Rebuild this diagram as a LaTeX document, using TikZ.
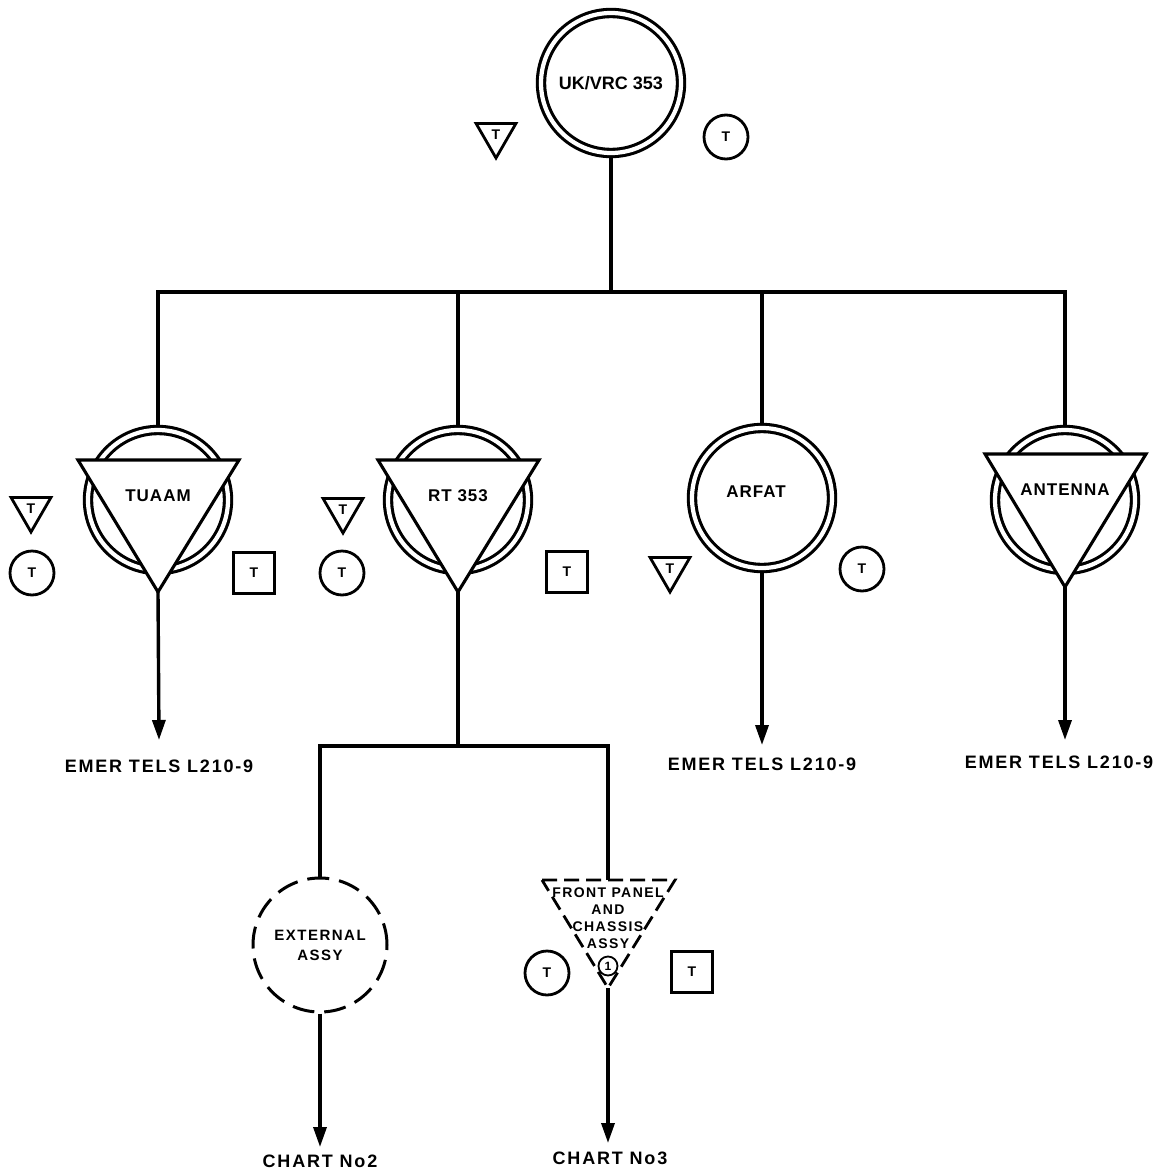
\documentclass[tikz,border=0pt]{standalone}
\usepackage{fontspec}
\setmainfont{Liberation Sans}
\newfontfamily\lblfont[LetterSpace=10]{Liberation Sans}
\newfontfamily\unitfont[LetterSpace=6]{Liberation Sans}
\usepackage{tikz}
\usetikzlibrary{arrows.meta,shapes.geometric,calc}

\begin{document}
\begin{tikzpicture}[x=1pt,y=-1pt,
  every node/.style={inner sep=0pt},
  ln/.style={line width=3.4pt},
  arr/.style={ln,-{Triangle[length=20pt,width=13pt]}},
  dcirc/.style={circle,draw,double,double distance=4.2pt,line width=3.1pt,minimum size=140pt,outer sep=4pt},
  unit/.style={draw,fill=white,line width=3.1pt},
  tsym/.style={regular polygon,regular polygon sides=3,shape border rotate=180,draw,line width=2.8pt,minimum size=46pt,font=\fontsize{14}{14}\bfseries},
  csym/.style={circle,draw,line width=2.8pt,minimum size=44pt,font=\fontsize{14}{14}\bfseries},
  ssym/.style={rectangle,draw,line width=2.8pt,minimum size=41pt,font=\fontsize{14}{14}\bfseries},
  lbl/.style={font=\fontsize{18}{18}\lblfont\bfseries},
  uname/.style={font=\fontsize{17}{17}\unitfont\bfseries},
  sub/.style={align=center,font=\fontsize{14}{17}\lblfont\bfseries}]
  \useasboundingbox (0,0) rectangle (1165,1172);
  \node[dcirc,font=\fontsize{18}{18}\bfseries] (ukvrc) at (611,83) {UK/VRC 353};
  \node[tsym] (ukvrc-t) at (496,135) {T};
  \node[csym] (ukvrc-ct) at (726,137) {T};
  \foreach \n/\x/\ty/\ay/\ly/\t in {tuaam/158/460/592/496/TUAAM, rt/458/460/592/496/RT 353, ant/1065/454/587/490/ANTENNA}{
    \node[dcirc] (\n-c) at (\x,500) {};
    \coordinate (\n-tip) at (\x,\ay);
    \draw[unit] (\x-80,\ty) -- (\x+81,\ty) -- (\n-tip) -- cycle;
    \node[uname] (\n) at (\x,\ly) {\t};}
  \node[dcirc] (arfat-c) at (762,498) {};
  \node[uname] (arfat) at (756,492) {ARFAT};
  \foreach \n/\x/\y in {tuaam-t/31/509, rt-t/343/510, arfat-t/670/569}
    \node[tsym] (\n) at (\x,\y) {T};
  \foreach \n/\x/\y in {tuaam-ct/32/573, rt-ct/342/573, arfat-ct/862/569, front-ct/547/973}
    \node[csym] (\n) at (\x,\y) {T};
  \foreach \n/\x/\y in {tuaam-s/254/573, rt-s/567/572, front-s/692/972}
    \node[ssym] (\n) at (\x,\y) {T};
  \coordinate (bus) at (611,292);
  \draw[ln] (ukvrc.south) -- (ukvrc.south |- bus);
  \draw[ln] (tuaam-c.north) -- (tuaam-c.north |- bus) -- (ant-c.north |- bus) -- (ant-c.north);
  \draw[ln] (rt-c.north) -- (rt-c.north |- bus);
  \draw[ln] (arfat-c.north) -- (arfat-c.north |- bus);
  \coordinate (tuaam-end) at (159,740);
  \coordinate (arfat-end) at (762,745);
  \coordinate (ant-end) at (1065,740);
  \draw[arr] (tuaam-tip) -- (tuaam-end);
  \draw[arr] (arfat-c.south) -- (arfat-end);
  \draw[arr] (ant-tip) -- (ant-end);
  \node[lbl] (tuaam-ref) at (159,766) {EMER TELS L210-9};
  \node[lbl] (arfat-ref) at (762,764) {EMER TELS L210-9};
  \node[lbl] (ant-ref) at (1059,762) {EMER TELS L210-9};
  \node[circle,draw,dash pattern=on 22pt off 10pt,line width=3pt,minimum size=134pt,sub,font=\fontsize{15}{20}\lblfont\bfseries] (ext) at (320,945) {EXTERNAL\\ASSY};
  \coordinate (front-top) at (608,880);
  \coordinate (front-tip) at (608,988);
  \draw[line width=2.8pt,dash pattern=on 15pt off 7pt] (542,880) -- (675,880) -- (front-tip) -- cycle;
  \node[sub] (front) at (608,918) {FRONT PANEL\\AND\\CHASSIS\\ASSY};
  \node[circle,draw,line width=1.8pt,minimum size=19pt,font=\fontsize{12}{12}\bfseries] (front-one) at (608,966) {1};
  \coordinate (sbus) at (458,746);
  \draw[ln] (rt-tip) -- (rt-tip |- sbus);
  \draw[ln] (ext.north) -- (ext.north |- sbus) -- (front-top |- sbus) -- (front-top);
  \coordinate (ext-end) at (320,1147);
  \coordinate (front-end) at (608,1143);
  \draw[arr] (ext.south) -- (ext-end);
  \draw[arr] (front-tip) -- (front-end);
  \node[lbl] (chart2) at (320,1161) {CHART No2};
  \node[lbl] (chart3) at (610,1158) {CHART No3};
\end{tikzpicture}
\end{document}
